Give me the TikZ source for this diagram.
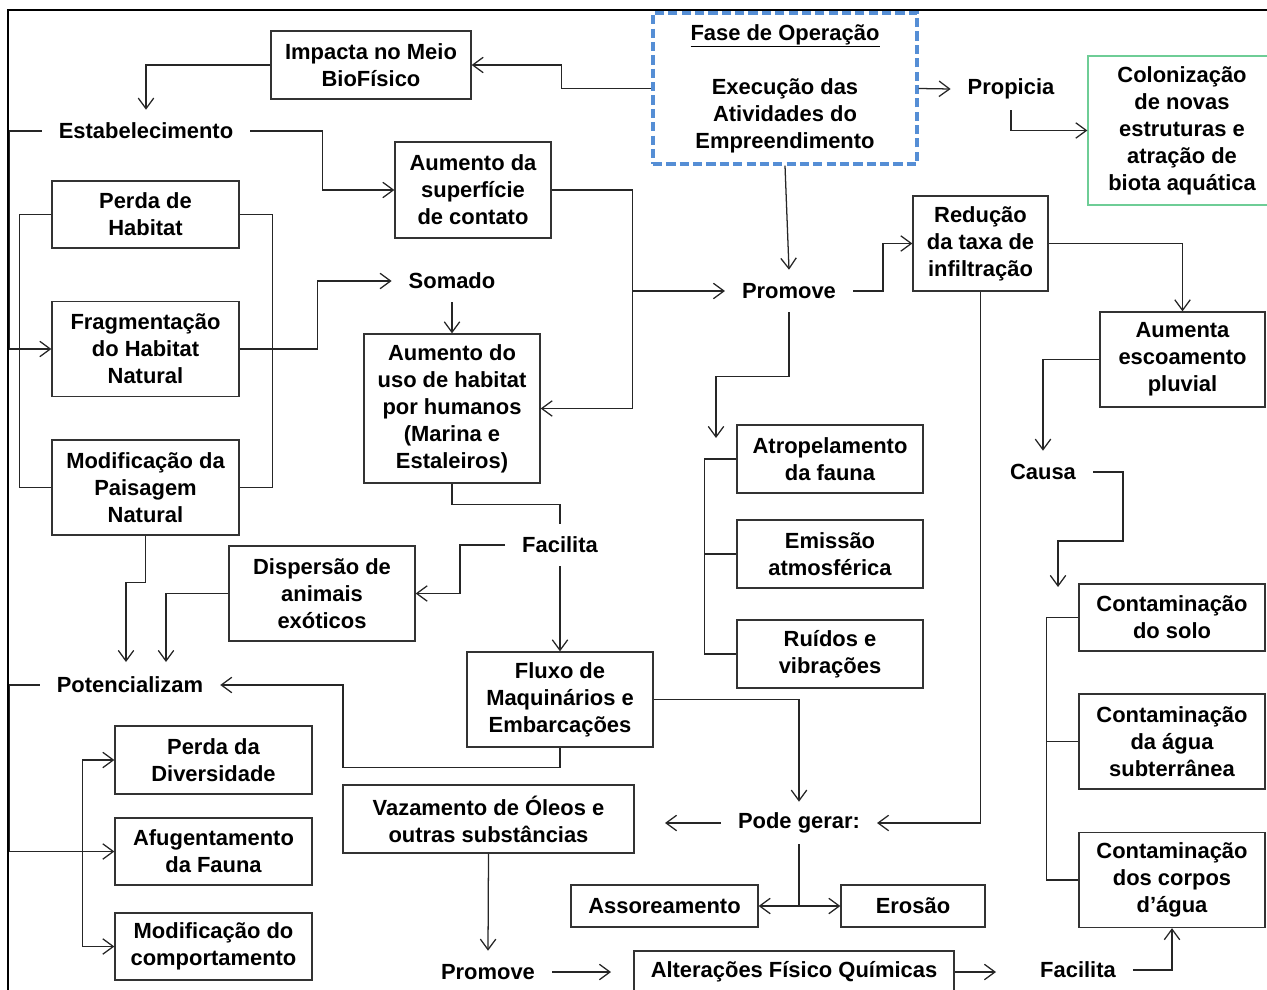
\documentclass[tikz,border=0pt]{standalone}
\usepackage{fontspec}
\setmainfont{Liberation Sans}
\usepackage{tikz}
\usetikzlibrary{arrows.meta, positioning}
\definecolor{azulfase}{RGB}{85,142,213}
\definecolor{verdecol}{RGB}{110,205,150}
\tikzset{>={Straight Barb[length=7.5pt,width=11pt]}}
\tikzset{
  caixa/.style 2 args={draw=black!80, line width=0.9pt, align=center, inner sep=0pt,
    minimum width=#1*0.025cm, minimum height=#2*0.025cm},
  rotulo/.style={inner xsep=0.42cm, inner ysep=0pt, minimum height=1.05cm},
  liga/.style={line width=0.9pt, black!85},
}

\begin{document}
\begin{tikzpicture}[x=0.025cm, y=-0.025cm, font=\fontsize{15.6pt}{19.2pt}\selectfont\bfseries]
            \useasboundingbox (0,0) rectangle (1267,990);
            \draw[line width=1.5pt] (8,990) -- (8,10) -- (1267,10);

            \node[caixa={264}{151}, draw=azulfase, line width=2.4pt, dash pattern=on 6.5pt off 3pt] (fase) at (785,88.5)
                {\underline{Fase de Operação}\\ \mbox{}\\ Execução das\\ Atividades do\\ Empreendimento};
            \node[caixa={200}{68}] (impacta) at (371,65) {Impacta no Meio\\ BioFísico};
            \node[rotulo] (propicia) at (1011,89) {Propicia};
            \node[caixa={188}{149}, draw=verdecol, line width=0.9pt] (colon) at (1182,130.5)
                {Colonização\\ de novas\\ estruturas e\\ atração de\\ biota aquática};
            \node[rotulo] (estab) at (146,131) {Estabelecimento};
            \node[caixa={156}{96}] (sup) at (473,190) {Aumento da\\ superfície\\ de contato};
            \node[caixa={187}{67}] (perda) at (145.5,214.5) {Perda de\\ Habitat};
            \node[caixa={187}{95}] (frag) at (145.5,349) {Fragmentação\\ do Habitat\\ Natural};
            \node[caixa={187}{95}] (modpais) at (145.5,487.5) {Modificação da\\ Paisagem\\ Natural};
            \node[rotulo] (somado) at (452,281) {Somado};
            \node[caixa={176}{149}] (uso) at (452,408.5)
                {Aumento do\\ uso de habitat\\ por humanos\\ (Marina e\\ Estaleiros)};
            \node[rotulo] (promove) at (789,291) {Promove};
            \node[caixa={135}{95}] (reducao) at (980.5,243.5) {Redução\\ da taxa de\\ infiltração};
            \node[caixa={165}{95}] (aumenta) at (1182.5,359.5) {Aumenta\\ escoamento\\ pluvial};
            \node[caixa={186}{68}] (atrop) at (830,459) {Atropelamento\\ da fauna};
            \node[caixa={186}{68}] (emissao) at (830,554) {Emissão\\ atmosférica};
            \node[caixa={186}{68}] (ruidos) at (830,654) {Ruídos e\\ vibrações};
            \node[rotulo] (causa) at (1043,472) {Causa};
            \node[caixa={186}{67}] (solo) at (1172,617.5) {Contaminação\\ do solo};
            \node[caixa={186}{95}] (agua) at (1172,741.5) {Contaminação\\ da água\\ subterrânea};
            \node[caixa={186}{95}] (corpos) at (1172,880) {Contaminação\\ dos corpos\\ d’água};
            \node[rotulo] (facilita) at (560,545) {Facilita};
            \node[caixa={186}{95}] (disp) at (322,593.5) {Dispersão de\\ animais\\ exóticos};
            \node[caixa={186}{95}] (fluxo) at (560,699.5) {Fluxo de\\ Maquinários e\\ Embarcações};
            \node[rotulo] (poten) at (130,685) {Potencializam};
            \node[caixa={197}{68}] (perdadiv) at (213.5,760) {Perda da\\ Diversidade};
            \node[caixa={197}{67}] (afug) at (213.5,851.5) {Afugentamento\\ da Fauna};
            \node[caixa={197}{67}] (modcomp) at (213.5,946.5) {Modificação do\\ comportamento};
            \node[caixa={291}{68}] (vaz) at (488.5,819) {Vazamento de Óleos e\\ outras substâncias};
            \node[rotulo] (pode) at (799,823) {Pode gerar:};
            \node[caixa={187}{42}] (assor) at (664.5,906) {Assoreamento};
            \node[caixa={144}{42}] (erosao) at (913,906) {Erosão};
            \node[rotulo] (promoveB) at (488,972) {Promove};
            \node[caixa={320}{42}] (alter) at (794,972) {Alterações Físico Químicas};
            \node[rotulo] (facilitaB) at (1078,970) {Facilita};

            \coordinate (chegaAtrop) at (716,438);
            \coordinate (chegaSolo) at (1058,587);
            \coordinate (chegaPotA) at (126,662);
            \coordinate (chegaPotB) at (166,662);
            \coordinate (saiVaz) at (665,823);
            \coordinate (chegaAlter) at (611,972);
            \coordinate (chegaFac) at (996,972);

            \draw[liga,->] (fase.west) -- ++(-90,0) |- (impacta.east);
            \draw[liga,->] (impacta.west) -| (estab.north);
            \draw[liga,->] (estab.west) -- ++(-32,0) |- (frag.west);
            \draw[liga,->] (estab.east) -- ++(72,0) |- (sup.west);
            \draw[liga] (perda.west) -- ++(-32,0) |- (modpais.west);
            \draw[liga] (perda.east) -- ++(33,0) |- (modpais.east);
            \draw[liga,->] (frag.east) -- ++(78,0) |- (somado.west);
            \draw[liga,->] (somado.south) -- (uso.north);
            \draw[liga,->] (sup.east) -- ++(81,0) coordinate (desvio) |- (uso.east);
            \draw[liga,->] (desvio |- promove.west) -- (promove.west);
            \draw[liga,->] (fase.south) -- (promove.north);
            \draw[liga,->] (promove.east) -- ++(30,0) |- (reducao.west);
            \draw[liga,->] (reducao.east) -| (aumenta.north);
            \draw[liga,->] (promove.south) -- ++(0,64) -| (chegaAtrop);
            \draw[liga] (atrop.west) -- ++(-32,0) |- (ruidos.west);
            \draw[liga] (emissao.west) -- ++(-32,0);
            \draw[liga,->] (fase.east) -- (propicia.west);
            \draw[liga,->] (propicia.south) |- (colon.west);
            \draw[liga,->] (aumenta.west) -| (causa.north);
            \draw[liga,->] (causa.east) -- ++(30,0) -- ++(0,69) -| (chegaSolo);
            \draw[liga] (solo.west) -- ++(-32,0) |- (corpos.west);
            \draw[liga] (agua.west) -- ++(-32,0);
            \draw[liga,->] (reducao.south) |- (pode.east);
            \draw[liga,->] (fluxo.east) -| (pode.north);
            \draw[liga,->] (pode.west) -- (saiVaz);
            \draw[liga] (pode.south) -- (pode.south |- assor.east);
            \draw[liga,<->] (assor.east) -- (erosao.west);
            \draw[liga,->] (fluxo.south) -- ++(0,20) -- ++(-217,0) |- (poten.east);
            \draw[liga] (uso.south) -- ++(0,21) -| (facilita.north);
            \draw[liga,->] (facilita.west) -- ++(-45,0) |- (disp.east);
            \draw[liga,->] (facilita.south) -- (fluxo.north);
            \draw[liga,->] (modpais.south) -- ++(0,47) -| (chegaPotA);
            \draw[liga,->] (disp.west) -| (chegaPotB);
            \draw[liga,->] (poten.west) -- ++(-30,0) |- (afug.west);
            \draw[liga,<->] (perdadiv.west) -- ++(-32,0) |- (modcomp.west);
            \draw[liga,->] (vaz.south) -- (promoveB.north);
            \draw[liga,->] (promoveB.east) -- (chegaAlter);
            \draw[liga,->] (alter.east) -- (chegaFac);
            \draw[liga,->] (facilitaB.east) -| (corpos.south);

\end{tikzpicture}
\end{document}
